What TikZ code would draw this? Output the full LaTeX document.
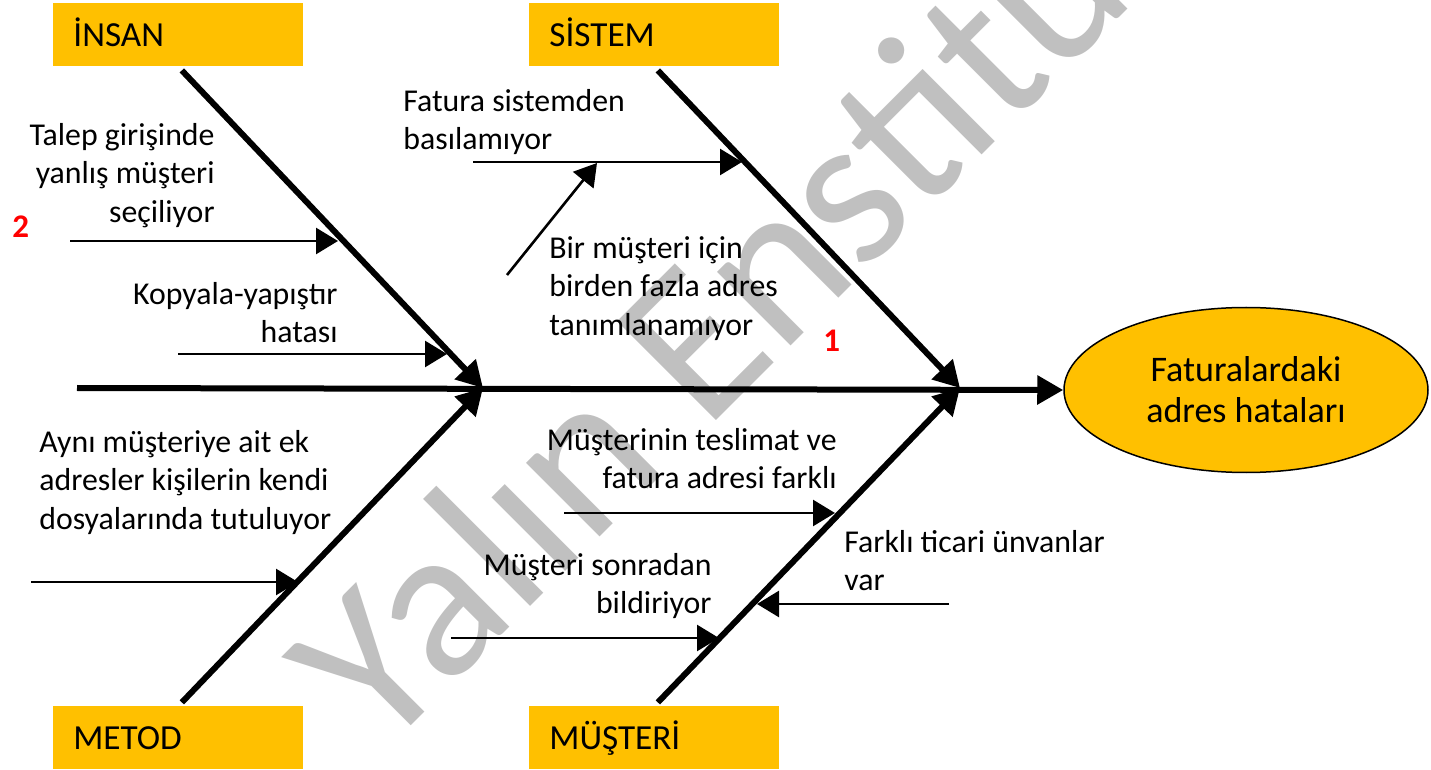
\documentclass[tikz,border=0pt]{standalone}
\usepackage{fontspec}
\setmainfont{Carlito}
\usepackage{xcolor}
\usetikzlibrary{arrows.meta,positioning,shapes.geometric}
\definecolor{boneGold}{HTML}{FFC000}
\definecolor{rankRed}{HTML}{FF0000}
\definecolor{wmGray}{HTML}{C0C0C0}
\newcommand{\causefont}{\fontsize{15.9}{19.25}\selectfont}
\newcommand{\catfont}{\fontsize{17.6}{21}\selectfont}
\newcommand{\goalfont}{\fontsize{18}{20.5}\selectfont}

\begin{document}
\begin{tikzpicture}[
    x=0.5pt, y=-0.5pt,
    bone/.style={line width=3pt, -{Triangle[length=13pt,width=14pt]}},
    twig/.style={line width=1.3pt, -{Triangle[length=11pt,width=13pt]}},
    catbox/.style={rectangle, fill=boneGold, anchor=north west, minimum width=125pt, minimum height=31.5pt,
        text width=105pt, inner xsep=10pt, inner ysep=0, align=left, font=\catfont, text height=11.3pt, text depth=0pt},
    cause/.style={inner sep=0, font=\causefont},
    rcause/.style={cause, align=right, anchor=north east},
    lcause/.style={cause, align=left, anchor=north west},
    rank/.style={inner sep=0, anchor=base west, text=rankRed, font=\fontsize{16.5}{19}\selectfont\bfseries},
    wm/.style={inner sep=0, anchor=base west, text=wmGray, font=\fontsize{109}{112}\selectfont}]
\useasboundingbox (0,0) rectangle (1431,770);

\node[wm, rotate=45] (wmark) at (380,757) {Yalın Enstitüsü};

\node[catbox] (insan) at (53,3) {İNSAN};
\node[catbox] (sistem) at (529,3) {SİSTEM};
\node[catbox] (metod) at (53,706) {METOD};
\node[catbox] (musteri) at (529,706) {MÜŞTERİ};

\node[ellipse, draw, line width=0.75pt, fill=boneGold, minimum width=182pt, minimum height=82.5pt,
      inner sep=0, align=center, font=\goalfont] (goal) at (1246,390) {Faturalardaki\\adres hataları};

\coordinate (tail) at (77,388);
\coordinate (j1) at (483,388);
\coordinate (j2) at (960,388);

\draw[bone] (tail) -- (goal.west);
\draw[bone, shorten <=2.5pt] (insan.south) -- (j1);
\draw[bone, shorten <=2.5pt] (metod.north) -- (j1);
\draw[bone, shorten <=2.5pt] (sistem.south) -- (j2);
\draw[bone, shorten <=2.5pt] (musteri.north) -- (j2);

\node[rcause] (talep) at (215,118) {\strut Talep girişinde\\yanlış müşteri\\seçiliyor};
\node[rcause] (kopya) at (338,277) {\strut Kopyala-yapıştır\\hatası};
\node[lcause] (basim) at (403,84) {\strut Fatura sistemden\\basılamıyor};
\node[lcause] (coklu) at (549,231) {\strut Bir müşteri için\\birden fazla adres\\tanımlanamıyor};
\node[lcause] (dosya) at (39,425) {\strut Aynı müşteriye ait ek\\adresler kişilerin kendi\\dosyalarında tutuluyor};
\node[rcause] (teslim) at (837,423) {\strut Müşterinin teslimat ve\\fatura adresi farklı};
\node[rcause] (sonra) at (712,548) {\strut Müşteri sonradan\\bildiriyor};
\node[lcause] (unvan) at (844,525) {\strut Farklı ticari ünvanlar\\var};

\node[rank] (rank2) at (12,238) {2};
\node[rank] (rank1) at (823,352) {1};

\coordinate (t1) at (70,241);  \coordinate (h1) at (338,241);
\coordinate (t2) at (178,354); \coordinate (h2) at (447,354);
\coordinate (t3) at (473,162); \coordinate (h3) at (742,162);
\coordinate (t4) at (507,275); \coordinate (h4) at (597,163);
\coordinate (t5) at (31,582);  \coordinate (h5) at (298,582);
\coordinate (t6) at (564,513); \coordinate (h6) at (835,513);
\coordinate (t7) at (451,638); \coordinate (h7) at (719,638);
\coordinate (t8) at (949,604); \coordinate (h8) at (757,604);

\draw[twig] (t1) -- (h1);
\draw[twig] (t2) -- (h2);
\draw[twig] (t3) -- (h3);
\draw[twig] (t4) -- (h4);
\draw[twig] (t5) -- (h5);
\draw[twig] (t6) -- (h6);
\draw[twig] (t7) -- (h7);
\draw[twig] (t8) -- (h8);

\end{tikzpicture}
\end{document}
